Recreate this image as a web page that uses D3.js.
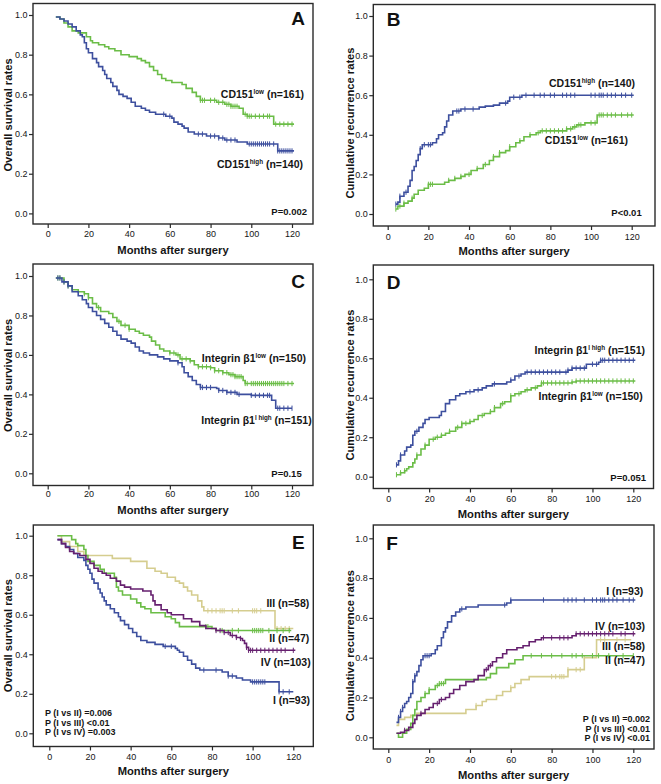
<!DOCTYPE html>
<html><head><meta charset="utf-8">
<script src="https://cdn.jsdelivr.net/npm/d3@7"></script>
<style>body{margin:0;background:#fff}svg{display:block}</style>
</head><body><svg id="c" width="661" height="784"></svg>
<script>
const monthTicks=[0,20,40,60,80,100,120];
const rateTicks=[0,0.2,0.4,0.6,0.8,1.0];
const xTitle="Months after surgery";
const osTitle="Overall survival rates";
const rrTitle="Cumulative recurrence rates";

// ---- Panel A: overall survival by CD151
const A_low=[[4,0.99],[6,0.98],[8,0.96],[10,0.94],[12,0.92],[15,0.91],[19,0.89],[21,0.87],[22,0.86],[25,0.85],[28,0.84],[30,0.83],[33,0.82],[36,0.80],[40,0.79],[44,0.78],[46,0.77],[48,0.76],[50,0.74],[52,0.72],[54,0.70],[56,0.68],[58,0.67],[61,0.66],[66,0.65],[68,0.63],[71,0.61],[73,0.59],[75,0.57],[83,0.56],[87,0.55],[90,0.54],[94,0.53],[96,0.50],[98,0.49],[111,0.45],[121,0.45]];
const A_lowCens=[75,76,77,80,82,84,86,88,89,90,91,92,93,97,98,99,100,102,104,106,108,109,112,114,116,118,120];
const A_high=[[4,0.99],[6,0.98],[8,0.97],[10,0.955],[12,0.94],[14,0.92],[16,0.90],[17,0.89],[18,0.86],[19,0.83],[20,0.81],[22,0.78],[24,0.76],[25,0.74],[27,0.72],[28,0.70],[29,0.68],[31,0.66],[32,0.64],[34,0.62],[35,0.60],[37,0.59],[39,0.58],[41,0.56],[43,0.54],[46,0.53],[48,0.52],[50,0.51],[53,0.50],[58,0.49],[61,0.48],[62,0.46],[64,0.45],[66,0.44],[67,0.43],[69,0.41],[72,0.40],[78,0.39],[84,0.38],[87,0.37],[93,0.36],[98,0.35],[113,0.315],[121,0.315]];
const A_highCens=[57,60,74,76,80,82,84,86,88,90,92,99,100,101,102,103,104,105,106,107,108,109,111,113,114,115,116,117,118,119,120];

// ---- Panel B: recurrence by CD151
const B_high=[[4,0.05],[5,0.06],[6,0.09],[8,0.11],[10,0.14],[11,0.17],[12,0.22],[13,0.24],[14,0.27],[15,0.30],[16,0.33],[17,0.35],[22,0.36],[24,0.38],[25,0.40],[27,0.41],[28,0.44],[29,0.47],[30,0.50],[32,0.52],[36,0.53],[45,0.54],[48,0.545],[52,0.55],[55,0.56],[59,0.57],[60,0.59],[66,0.60],[121,0.60]];
const B_highCens=[4,6,9,16,18,20,21,34,35,38,42,58,62,65,68,72,75,77,80,82,86,88,90,92,100,102,104,105,106,108,110,112,115,117,120];
const B_low=[[4,0.025],[5,0.04],[8,0.055],[10,0.065],[12,0.08],[13,0.10],[15,0.12],[18,0.13],[20,0.15],[28,0.16],[30,0.17],[33,0.18],[36,0.19],[38,0.20],[41,0.22],[44,0.23],[47,0.25],[50,0.27],[52,0.29],[55,0.31],[58,0.32],[60,0.34],[63,0.36],[65,0.37],[67,0.39],[70,0.40],[73,0.41],[75,0.42],[88,0.43],[91,0.44],[93,0.45],[97,0.46],[103,0.50],[121,0.50]];
const B_lowCens=[4,6,8,12,20,21,22,30,33,36,40,44,48,52,55,60,65,70,74,76,78,80,82,84,86,88,90,92,94,95,100,102,104,105,106,108,110,112,115,118,120];

// ---- Panel C: overall survival by integrin beta1
const C_low=[[4,0.99],[8,0.97],[10,0.95],[12,0.93],[15,0.92],[18,0.91],[20,0.89],[22,0.86],[24,0.84],[26,0.82],[30,0.81],[32,0.79],[34,0.77],[36,0.75],[40,0.73],[43,0.72],[45,0.71],[47,0.70],[50,0.69],[51,0.67],[53,0.65],[55,0.63],[57,0.62],[60,0.61],[63,0.60],[65,0.58],[70,0.57],[72,0.55],[74,0.54],[80,0.535],[82,0.52],[86,0.51],[89,0.50],[92,0.49],[96,0.47],[97,0.455],[121,0.455]];
const C_lowCens=[5,6,8,10,18,20,25,35,38,40,60,62,64,66,68,70,74,76,78,80,82,84,86,88,90,91,92,93,94,95,97,98,100,101,102,103,104,105,106,107,108,109,110,111,112,113,114,115,116,118,120];
const C_high=[[4,0.99],[7,0.97],[10,0.95],[12,0.92],[15,0.90],[17,0.88],[19,0.86],[20,0.84],[22,0.82],[24,0.80],[26,0.78],[28,0.76],[30,0.74],[32,0.72],[34,0.70],[36,0.68],[39,0.67],[41,0.66],[43,0.64],[45,0.62],[47,0.61],[50,0.60],[54,0.59],[57,0.58],[60,0.57],[64,0.56],[66,0.54],[67,0.51],[69,0.49],[71,0.47],[73,0.45],[75,0.435],[83,0.43],[84,0.42],[88,0.41],[93,0.40],[100,0.395],[110,0.37],[112,0.33],[120,0.33]];
const C_highCens=[5,6,8,10,64,75,76,78,80,84,86,88,90,92,94,100,102,104,106,108,109,113,114,116,118,120];

// ---- Panel D: recurrence by integrin beta1
const D_high=[[4,0.06],[5,0.08],[6,0.11],[8,0.13],[9,0.15],[11,0.16],[12,0.21],[13,0.23],[15,0.25],[17,0.27],[18,0.29],[20,0.30],[25,0.31],[26,0.33],[28,0.37],[30,0.39],[33,0.41],[35,0.42],[38,0.43],[42,0.44],[46,0.45],[48,0.46],[51,0.47],[58,0.48],[60,0.49],[62,0.51],[65,0.52],[67,0.53],[88,0.54],[90,0.55],[97,0.57],[103,0.58],[104,0.59],[121,0.59]];
const D_highCens=[4,6,14,40,44,52,60,64,68,70,72,74,76,78,80,82,84,87,88,90,92,94,96,100,102,104,105,106,108,110,112,114,116,118,120];
const D_low=[[4,0.01],[6,0.02],[8,0.03],[9,0.04],[10,0.05],[12,0.07],[13,0.09],[14,0.11],[16,0.14],[18,0.16],[20,0.19],[23,0.20],[26,0.21],[28,0.22],[30,0.23],[33,0.25],[36,0.27],[40,0.28],[42,0.29],[44,0.31],[47,0.32],[50,0.33],[52,0.35],[55,0.37],[57,0.38],[60,0.41],[62,0.42],[65,0.43],[67,0.44],[70,0.45],[73,0.46],[75,0.475],[90,0.48],[92,0.485],[121,0.485]];
const D_lowCens=[4,6,8,14,18,22,24,26,30,34,36,38,40,46,50,52,56,60,64,68,72,75,76,78,80,82,84,86,88,90,92,94,96,98,100,102,104,106,108,110,112,114,116,118,120];

// ---- Panel E: overall survival by group I-IV
const E_I=[[4,0.98],[6,0.96],[8,0.945],[10,0.93],[12,0.91],[14,0.89],[17,0.875],[18,0.85],[19,0.83],[20,0.81],[21,0.78],[22,0.76],[24,0.73],[25,0.71],[26,0.69],[27,0.67],[28,0.65],[30,0.63],[32,0.61],[34,0.59],[35,0.57],[37,0.55],[39,0.53],[41,0.51],[43,0.49],[45,0.47],[48,0.46],[52,0.45],[56,0.44],[62,0.43],[63,0.42],[64,0.41],[66,0.39],[68,0.37],[70,0.35],[72,0.33],[74,0.32],[85,0.31],[88,0.29],[92,0.28],[95,0.27],[99,0.26],[113,0.21],[120,0.21]];
const E_ICens=[57,60,76,82,88,90,100,101,102,103,104,105,106,113,115,118];
const E_II=[[4,1.0],[11,0.98],[13,0.96],[14,0.95],[17,0.93],[18,0.90],[19,0.87],[22,0.85],[25,0.83],[27,0.81],[32,0.79],[33,0.74],[34,0.72],[36,0.70],[40,0.68],[43,0.66],[45,0.64],[47,0.63],[50,0.61],[57,0.59],[60,0.58],[62,0.56],[64,0.54],[80,0.53],[82,0.52],[119,0.52]];
const E_IICens=[77,78,85,90,93,100,101,102,103,104,105,108,112,115,118];
const E_III=[[4,1.0],[6,0.97],[10,0.945],[14,0.92],[17,0.90],[31,0.885],[40,0.87],[48,0.835],[52,0.82],[55,0.81],[58,0.79],[62,0.77],[64,0.76],[66,0.74],[68,0.72],[70,0.70],[73,0.67],[75,0.64],[76,0.62],[111,0.53],[120,0.53]];
const E_IIICens=[78,80,82,84,85,86,90,93,100,101,102,104,112,114,116,118];
const E_IV=[[4,0.98],[6,0.96],[8,0.94],[10,0.92],[12,0.91],[15,0.90],[18,0.88],[20,0.86],[22,0.835],[24,0.82],[26,0.81],[28,0.80],[30,0.785],[33,0.77],[35,0.75],[37,0.74],[40,0.73],[46,0.72],[50,0.70],[51,0.67],[52,0.65],[55,0.625],[58,0.61],[60,0.60],[66,0.58],[70,0.565],[74,0.545],[77,0.53],[82,0.52],[86,0.51],[89,0.495],[92,0.485],[94,0.48],[95,0.47],[96,0.455],[97,0.435],[98,0.42],[121,0.42]];
const E_IVCens=[82,84,86,88,90,92,94,97,98,99,100,102,104,106,108,110,112,114,116,120];

// ---- Panel F: recurrence by group I-IV
const F_I=[[4,0.075],[5,0.10],[6,0.13],[7,0.15],[8,0.17],[9,0.18],[10,0.20],[11,0.22],[12,0.28],[13,0.31],[14,0.33],[15,0.36],[16,0.39],[17,0.41],[21,0.42],[23,0.44],[24,0.46],[26,0.50],[27,0.53],[28,0.55],[29,0.58],[31,0.61],[33,0.63],[35,0.645],[38,0.655],[44,0.665],[58,0.675],[60,0.69],[121,0.69]];
const F_ICens=[5,6,7,12,13,18,19,20,36,57,60,76,86,88,90,92,96,100,102,104,105,106,108,110,112,115,118,120];
const F_II=[[4,0.02],[5,0.0],[7,0.02],[9,0.04],[11,0.07],[12,0.11],[13,0.14],[14,0.18],[16,0.20],[18,0.22],[20,0.24],[23,0.26],[25,0.27],[28,0.29],[48,0.30],[50,0.32],[53,0.35],[59,0.37],[62,0.39],[66,0.41],[120,0.41]];
const F_IICens=[18,20,24,25,26,27,70,75,80,85,90,92,95,100,103,108,115,120];
const F_III=[[4,0.06],[5,0.09],[8,0.10],[11,0.11],[14,0.12],[38,0.14],[43,0.16],[46,0.18],[48,0.19],[53,0.21],[56,0.23],[60,0.25],[62,0.27],[65,0.29],[69,0.305],[88,0.34],[96,0.40],[102,0.49],[119,0.49]];
const F_IIICens=[43,60,80,82,84,85,86,88,92,94,96,104,106,112,116];
const F_IV=[[4,0.02],[6,0.025],[8,0.035],[10,0.05],[12,0.07],[13,0.09],[14,0.11],[16,0.12],[18,0.14],[20,0.15],[22,0.17],[25,0.19],[28,0.20],[30,0.22],[32,0.24],[35,0.26],[38,0.28],[42,0.29],[44,0.31],[47,0.34],[49,0.36],[51,0.38],[53,0.40],[56,0.42],[58,0.44],[63,0.45],[66,0.46],[69,0.48],[72,0.49],[75,0.50],[90,0.51],[92,0.52],[121,0.52]];
const F_IVCens=[8,16,24,26,48,50,76,80,84,86,88,92,94,96,98,100,102,104,106,108,110,114,116,120];

const BLUE="#3d4f9e", GREEN="#6bbd47", PURPLE="#66206f", TAN="#d5cd8f", INK="#151515";

const panels=[
 {letter:"A", box:[33,3.5,313,224], xr:[47.7,292], yr:[213.4,15], tickY:234, titleY:250, yTitleX:8, yTitleY:115, yTitle:osTitle,
  letterPos:[298,25], letterAnchor:"middle",
  series:[{d:A_low,c:A_lowCens,col:GREEN},{d:A_high,c:A_highCens,col:BLUE}],
  labels:[{x:304,y:94,parts:[["CD151"],["low",1],[" (n=161)"]]},{x:303,y:164,parts:[["CD151"],["high",1],[" (n=140)"]]}],
  pv:{x:307,y:212,anchor:"end",size:9.5,lines:["P=0.002"]}},
 {letter:"B", box:[373.3,4.5,655,226], xr:[387.7,631.7], yr:[214,16], tickY:237, titleY:251, yTitleX:350, yTitleY:123, yTitle:rrTitle,
  letterPos:[393.5,25.5], letterAnchor:"middle",
  series:[{d:B_low,c:B_lowCens,col:GREEN},{d:B_high,c:B_highCens,col:BLUE}],
  labels:[{x:635,y:83,parts:[["CD151"],["high",1],[" (n=140)"]]},{x:628,y:140,parts:[["CD151"],["low",1],[" (n=161)"]]}],
  pv:{x:641.7,y:213,anchor:"end",size:9.5,lines:["P<0.01"]}},
 {letter:"C", box:[33,264,313,485.5], xr:[47.7,292], yr:[473.3,276], tickY:494, titleY:510, yTitleX:8, yTitleY:375.5, yTitle:osTitle,
  letterPos:[298,288], letterAnchor:"middle",
  series:[{d:C_low,c:C_lowCens,col:GREEN},{d:C_high,c:C_highCens,col:BLUE}],
  labels:[{x:306,y:358.3,parts:[["Integrin β1"],["low",1],[" (n=150)"]]},{x:311.7,y:420,parts:[["Integrin β1"],["l high",1],[" (n=151)"]]}],
  pv:{x:301.7,y:473.3,anchor:"end",size:9.5,lines:["P=0.15"]}},
 {letter:"D", box:[373.3,265,653.5,488.5], xr:[388.3,633.3], yr:[476.7,279.3], tickY:499, titleY:514.5, yTitleX:350, yTitleY:385, yTitle:rrTitle,
  letterPos:[393.5,289], letterAnchor:"middle",
  series:[{d:D_low,c:D_lowCens,col:GREEN},{d:D_high,c:D_highCens,col:BLUE}],
  labels:[{x:645,y:350,parts:[["Integrin β1"],["l high",1],[" (n=151)"]]},{x:642.7,y:396,parts:[["Integrin β1"],["low",1],[" (n=150)"]]}],
  pv:{x:646,y:477.3,anchor:"end",size:9.5,lines:["P=0.051"]}},
 {letter:"E", box:[33.3,525,313.3,746.5], xr:[49.3,293.3], yr:[733.3,535.7], tickY:757, titleY:771, yTitleX:8, yTitleY:635.7, yTitle:osTitle,
  letterPos:[298.3,549], letterAnchor:"middle",
  series:[{d:E_III,c:E_IIICens,col:TAN},{d:E_II,c:E_IICens,col:GREEN},{d:E_I,c:E_ICens,col:BLUE},{d:E_IV,c:E_IVCens,col:PURPLE}],
  labels:[{x:309.3,y:603.3,parts:[["III (n=58)"]]},{x:309.3,y:638.3,parts:[["II (n=47)"]]},{x:310.7,y:662.7,parts:[["IV (n=103)"]]},{x:310,y:700,parts:[["I (n=93)"]]}],
  pv:{x:45,y:713.3,anchor:"start",size:9,lines:["P (I vs II) =0.006","P (I vs III) <0.01","P (I vs IV) =0.003"]}},
 {letter:"F", box:[373.3,525,654,749], xr:[388.3,633.3], yr:[737.3,538.3], tickY:760, titleY:775, yTitleX:350, yTitleY:645.7, yTitle:rrTitle,
  letterPos:[392,549.5], letterAnchor:"middle",
  series:[{d:F_III,c:F_IIICens,col:TAN},{d:F_II,c:F_IICens,col:GREEN},{d:F_IV,c:F_IVCens,col:PURPLE},{d:F_I,c:F_ICens,col:BLUE}],
  labels:[{x:643.3,y:591.7,parts:[["I (n=93)"]]},{x:645,y:626,parts:[["IV (n=103)"]]},{x:645,y:646.7,parts:[["III (n=58)"]]},{x:645,y:660.7,parts:[["II (n=47)"]]}],
  pv:{x:650,y:719.3,anchor:"end",size:9,lines:["P (I vs II) =0.002","P (I vs III) <0.01","P (I vs IV) <0.01"]}}
];

const svg=d3.select("#c");
const FONT="'Liberation Sans', Arial, sans-serif";

function stepValue(d,t){
  const i=d3.bisector(p=>p[0]).right(d,t)-1;
  return d[Math.max(0,i)][1];
}

panels.forEach(p=>{
  const g=svg.append("g");
  const x=d3.scaleLinear().domain([0,120]).range(p.xr);
  const y=d3.scaleLinear().domain([0,1]).range(p.yr);
  const [bx0,by0,bx1,by1]=p.box;
  g.append("rect").attr("x",bx0).attr("y",by0).attr("width",bx1-bx0).attr("height",by1-by0)
    .attr("fill","none").attr("stroke","#2a2a2a").attr("stroke-width",1.4);

  const ya=d3.axisLeft(y).tickValues(rateTicks).tickFormat(d3.format(".1f")).tickSize(4).tickSizeOuter(0);
  const yg=g.append("g").attr("transform",`translate(${bx0},0)`).call(ya);
  yg.select(".domain").remove();
  yg.selectAll("line").attr("stroke","#2a2a2a").attr("stroke-width",1.2);
  yg.selectAll("text").attr("font-family",FONT).attr("font-size",9).attr("fill",INK).attr("x",-5.5);

  const xa=d3.axisBottom(x).tickValues(monthTicks).tickFormat(d3.format("d")).tickSize(4).tickSizeOuter(0);
  const xg=g.append("g").attr("transform",`translate(0,${by1})`).call(xa);
  xg.select(".domain").remove();
  xg.selectAll("line").attr("stroke","#2a2a2a").attr("stroke-width",1.2);
  xg.selectAll("text").attr("font-family",FONT).attr("font-size",9).attr("fill",INK)
    .attr("y",p.tickY-by1).attr("dy","0.35em");

  g.append("text").attr("x",(bx0+bx1)/2).attr("y",p.titleY).attr("dy","0.35em").attr("text-anchor","middle")
    .attr("font-family",FONT).attr("font-weight","bold").attr("font-size",11.2).attr("fill",INK).text(xTitle);
  g.append("text").attr("transform",`translate(${p.yTitleX},${p.yTitleY}) rotate(-90)`).attr("dy","0.35em")
    .attr("text-anchor","middle").attr("font-family",FONT).attr("font-weight","bold").attr("font-size",11.2)
    .attr("fill",INK).text(p.yTitle);

  const line=d3.line().x(d=>x(d[0])).y(d=>y(d[1])).curve(d3.curveStepAfter);
  p.series.forEach(s=>{
    g.append("path").attr("d",line(s.d)).attr("fill","none").attr("stroke",s.col).attr("stroke-width",1.6);
    g.selectAll(null).data(s.c).enter().append("line")
      .attr("x1",t=>x(t)).attr("x2",t=>x(t))
      .attr("y1",t=>y(stepValue(s.d,t))-2.6).attr("y2",t=>y(stepValue(s.d,t))+2.6)
      .attr("stroke",s.col).attr("stroke-width",1);
  });

  g.append("text").attr("x",p.letterPos[0]).attr("y",p.letterPos[1]).attr("text-anchor",p.letterAnchor)
    .attr("font-family",FONT).attr("font-weight","bold").attr("font-size",19).attr("fill","#111").text(p.letter);

  p.labels.forEach(l=>{
    const t=g.append("text").attr("x",l.x).attr("y",l.y).attr("dy","0.35em").attr("text-anchor","end")
      .attr("font-family",FONT).attr("font-weight","bold").attr("font-size",10.5).attr("fill",INK);
    l.parts.forEach(pt=>{
      if(pt[1]){
        t.append("tspan").attr("font-size",6.3).attr("dy",-3.5).text(pt[0]);
      } else {
        const ts=t.append("tspan").text(pt[0]);
        if(t.selectAll("tspan").size()>1) ts.attr("dy",3.5);
      }
    });
  });

  p.pv.lines.forEach((ln,i)=>{
    g.append("text").attr("x",p.pv.x).attr("y",p.pv.y+i*9.2).attr("dy","0.35em").attr("text-anchor",p.pv.anchor)
      .attr("font-family",FONT).attr("font-weight","bold").attr("font-size",p.pv.size).attr("fill",INK).text(ln);
  });
});
</script></body></html>
